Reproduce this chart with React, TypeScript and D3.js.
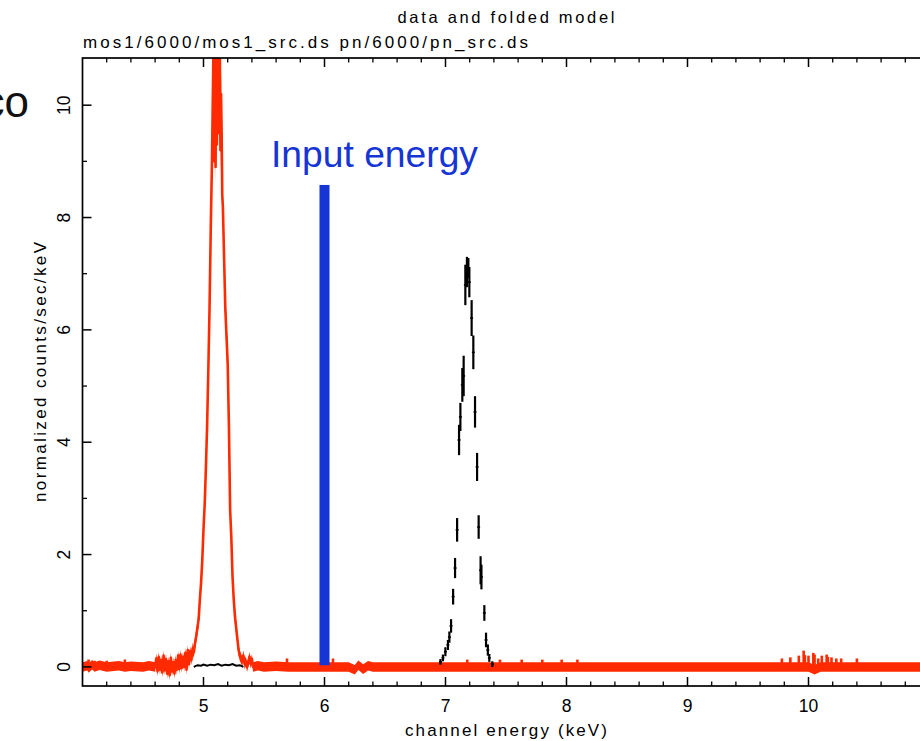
import React from "react";
import * as d3 from "d3";

// ---------- data ----------
// MOS1 spectrum (red): [energy keV, normalized counts/sec/keV, error]
const redSpectrum: [number, number, number][] = [
  [4.0, 0.0, 0.085], [4.04, 0.02, 0.085], [4.05, -0.02, 0.085], [4.08, 0.04, 0.085], [4.1, 0.0, 0.085],
  [4.14, 0.03, 0.085], [4.2, 0.0, 0.085], [4.3, 0.02, 0.085], [4.35, 0.0, 0.085], [4.4, 0.01, 0.085],
  [4.5, 0.0, 0.085], [4.55, 0.02, 0.085], [4.6, 0.0, 0.085],
  [4.61, 0.15, 0.09], [4.62, -0.08, 0.09], [4.63, 0.18, 0.09], [4.64, -0.05, 0.09], [4.65, 0.12, 0.09],
  [4.66, -0.1, 0.09], [4.67, 0.2, 0.09], [4.68, -0.06, 0.09], [4.69, 0.14, 0.09], [4.7, -0.12, 0.09],
  [4.71, 0.1, 0.09], [4.72, -0.15, 0.09], [4.73, 0.16, 0.09], [4.74, -0.08, 0.09], [4.75, 0.08, 0.09],
  [4.76, -0.12, 0.09], [4.77, 0.12, 0.09], [4.78, -0.05, 0.09], [4.79, 0.2, 0.09], [4.8, -0.04, 0.09],
  [4.81, 0.22, 0.09], [4.82, -0.02, 0.09], [4.83, 0.18, 0.09], [4.84, 0.0, 0.09], [4.85, 0.25, 0.09],
  [4.86, -0.05, 0.09], [4.87, 0.3, 0.09], [4.88, 0.05, 0.09], [4.89, 0.28, 0.09], [4.9, 0.12, 0.09],
  [4.91, 0.33, 0.1], [4.92, 0.26, 0.1], [4.93, 0.42, 0.1], [4.94, 0.55, 0.11], [4.95, 0.7, 0.12],
  [4.96, 0.85, 0.13], [4.97, 1.2, 0.14], [4.98, 1.5, 0.16], [4.99, 1.9, 0.18], [5.0, 2.45, 0.2],
  [5.01, 2.9, 0.22], [5.02, 3.55, 0.24], [5.03, 4.3, 0.26], [5.04, 5.3, 0.28], [5.05, 6.4, 0.3],
  [5.06, 7.8, 0.33], [5.07, 9.0, 0.35], [5.08, 10.6, 0.37], [5.085, 11.5, 0.38], [5.09, 9.0, 0.36],
  [5.095, 11.5, 0.38], [5.1, 8.9, 0.36], [5.105, 11.5, 0.38], [5.11, 9.3, 0.36], [5.115, 11.5, 0.38],
  [5.12, 9.5, 0.36], [5.125, 11.4, 0.38], [5.13, 10.0, 0.37], [5.135, 11.0, 0.37], [5.14, 9.2, 0.36],
  [5.145, 10.2, 0.36], [5.15, 9.5, 0.35], [5.155, 8.4, 0.34], [5.16, 8.2, 0.33], [5.17, 7.3, 0.32],
  [5.18, 6.4, 0.3], [5.19, 5.9, 0.29], [5.2, 5.4, 0.28], [5.21, 4.3, 0.26], [5.22, 2.8, 0.22],
  [5.23, 2.3, 0.2], [5.24, 1.6, 0.17], [5.25, 1.2, 0.15], [5.26, 0.9, 0.14], [5.27, 0.7, 0.12],
  [5.28, 0.5, 0.11], [5.29, 0.3, 0.1], [5.3, 0.2, 0.09], [5.31, 0.15, 0.09], [5.32, 0.1, 0.09],
  [5.33, 0.2, 0.09], [5.34, 0.05, 0.09], [5.35, 0.1, 0.09], [5.36, 0.0, 0.085], [5.37, 0.08, 0.085],
  [5.38, 0.18, 0.085], [5.39, 0.05, 0.085], [5.4, 0.14, 0.085], [5.41, 0.0, 0.085], [5.45, 0.02, 0.085],
  [5.5, 0.0, 0.085], [5.6, 0.01, 0.085], [5.7, 0.0, 0.085], [5.8, 0.0, 0.085], [6.1, 0.0, 0.085],
  [6.2, 0.0, 0.085], [6.25, -0.05, 0.085], [6.28, 0.03, 0.085], [6.32, -0.04, 0.085], [6.36, 0.02, 0.085],
  [6.4, 0.0, 0.085], [7.0, 0.0, 0.085], [8.0, 0.0, 0.085], [9.0, 0.0, 0.085], [10.0, 0.0, 0.085],
  [10.05, -0.05, 0.085], [10.1, 0.0, 0.085], [11.0, 0.0, 0.085],
];

// isolated single-channel upward fluctuations of the red spectrum: [energy, top value]
const redSpikes: [number, number][] = [
  [4.05, 0.13], [4.1, 0.11], [4.2, 0.11], [4.35, 0.13], [5.69, 0.15], [6.07, 0.15], [7.18, 0.13],
  [7.45, 0.13], [7.63, 0.13], [7.8, 0.13], [7.96, 0.13], [8.09, 0.13], [9.78, 0.15], [9.85, 0.17],
  [9.92, 0.2], [9.96, 0.29], [9.97, 0.21], [10.0, 0.2], [10.04, 0.25], [10.05, 0.22], [10.08, 0.15],
  [10.11, 0.2], [10.15, 0.22], [10.16, 0.18], [10.19, 0.17], [10.23, 0.15], [10.27, 0.15], [10.4, 0.15],
];

// pn spectrum (black): [energy keV, value, error]
const blackPoints: [number, number, number][] = [
  [6.958, 0.09, 0.05], [6.979, 0.16, 0.06], [6.999, 0.27, 0.08], [7.02, 0.39, 0.09], [7.032, 0.53, 0.1],
  [7.046, 0.73, 0.12], [7.063, 1.25, 0.14], [7.079, 1.76, 0.18], [7.096, 2.44, 0.21], [7.112, 4.04, 0.27],
  [7.123, 4.45, 0.25], [7.139, 5.02, 0.3], [7.15, 5.18, 0.36], [7.164, 6.8, 0.36], [7.177, 7.03, 0.27],
  [7.189, 7.1, 0.18], [7.197, 6.85, 0.27], [7.216, 6.21, 0.32], [7.23, 5.6, 0.3], [7.244, 4.54, 0.28],
  [7.261, 3.56, 0.25], [7.274, 2.49, 0.21], [7.29, 1.72, 0.25], [7.297, 1.6, 0.22], [7.321, 0.96, 0.14],
  [7.335, 0.48, 0.13], [7.35, 0.3, 0.1], [7.362, 0.16, 0.07], [7.387, 0.05, 0.05],
];

// pn low level near the MOS line (black)
const blackLow: [number, number][] = [
  [4.92, 0.0], [4.95, 0.03], [4.98, 0.02], [5.0, 0.04], [5.03, 0.02], [5.06, 0.04], [5.09, 0.03],
  [5.12, 0.05], [5.15, 0.02], [5.18, 0.04], [5.21, 0.03], [5.24, 0.05], [5.27, 0.02], [5.3, 0.03], [5.33, 0.0],
];

const inputEnergy = 6.0;
const inputMarkerHeight = 8.58;

const xMajorTicks = [5, 6, 7, 8, 9, 10];
const yMajorTicks = [0, 2, 4, 6, 8, 10];

const titleText = "data and folded model";
const subtitleText = "mos1/6000/mos1_src.ds pn/6000/pn_src.ds";
const xLabelText = "channel energy (keV)";
const yLabelText = "normalized counts/sec/keV";

// ---------- layout ----------
const W = 920;
const H = 741;
const L = 82.5, R = 929.5, T = 58, B = 686;
const RED = "#ff2a00";
const BLUE = "#1535d4";
const FONT = "'Liberation Sans', Arial, Helvetica, sans-serif";

export default function App() {
  const x = d3.scaleLinear().domain([4, 11]).range([L, R]);
  const y = d3.scaleLinear().domain([-0.34, 10.84]).range([B, T]);

  const redArea = d3
    .area<[number, number, number]>()
    .x((d) => x(d[0]))
    .y0((d) => y(d[1] - d[2]))
    .y1((d) => y(d[1] + d[2]));
  const redLine = d3
    .line<[number, number, number]>()
    .x((d) => x(d[0]))
    .y((d) => y(d[1]));
  const lowLine = d3
    .line<[number, number]>()
    .x((d) => x(d[0]))
    .y((d) => y(d[1]));

  const xMinor = d3.range(4.2, 10.9, 0.2).filter((v) => Math.abs(v - Math.round(v)) > 0.05);
  const yMinor = d3.range(1, 11, 2);

  const majorLen = 9;
  const minorLen = 4.5;

  return (
    <svg
      width={W}
      height={H}
      style={{ position: "absolute", left: 0, top: 0, background: "#fff" }}
      fontFamily={FONT}
    >
      <defs>
        <clipPath id="plotClip">
          <rect x={L} y={T} width={R - L} height={B - T} />
        </clipPath>
      </defs>
      <rect x={0} y={0} width={W} height={H} fill="#fff" />

      {/* slide fragment (cut at the left edge as in the reference) */}
      <text x={29} y={117} fontSize={44} textAnchor="end" fill="#111">
        co
      </text>

      <g clipPath="url(#plotClip)">
        <path d={redArea(redSpectrum) || ""} fill={RED} />
        <path d={redLine(redSpectrum) || ""} fill="none" stroke={RED} strokeWidth={2.6} strokeLinejoin="round" />
        {redSpikes.map((s, i) => (
          <line key={i} x1={x(s[0])} x2={x(s[0])} y1={y(0)} y2={y(s[1])} stroke={RED} strokeWidth={2.6} />
        ))}

        <rect
          x={x(inputEnergy) - 5}
          width={10}
          y={y(inputMarkerHeight)}
          height={y(0.03) - y(inputMarkerHeight)}
          fill={BLUE}
        />

        <path d={lowLine(blackLow) || ""} fill="none" stroke="#000" strokeWidth={2} />
        {blackPoints.map((p, i) => (
          <g key={i} stroke="#000" strokeWidth={2.2}>
            <line x1={x(p[0])} x2={x(p[0])} y1={y(p[1] - p[2])} y2={y(p[1] + p[2])} />
            <line x1={x(p[0] - 0.012)} x2={x(p[0] + 0.012)} y1={y(p[1])} y2={y(p[1])} strokeWidth={1.6} />
          </g>
        ))}
      </g>

      {/* frame */}
      <rect x={L} y={T} width={R - L} height={B - T} fill="none" stroke="#000" strokeWidth={1.7} />
      {xMajorTicks.map((v) => (
        <g key={"xM" + v} stroke="#000" strokeWidth={1.5}>
          <line x1={x(v)} x2={x(v)} y1={B} y2={B - majorLen} />
          <line x1={x(v)} x2={x(v)} y1={T} y2={T + majorLen} />
        </g>
      ))}
      {xMinor.map((v, i) => (
        <g key={"xm" + i} stroke="#000" strokeWidth={1.3}>
          <line x1={x(v)} x2={x(v)} y1={B} y2={B - minorLen} />
          <line x1={x(v)} x2={x(v)} y1={T} y2={T + minorLen} />
        </g>
      ))}
      {yMajorTicks.map((v) => (
        <g key={"yM" + v} stroke="#000" strokeWidth={1.5}>
          <line x1={L} x2={L + majorLen} y1={y(v)} y2={y(v)} />
          <line x1={R} x2={R - majorLen} y1={y(v)} y2={y(v)} />
        </g>
      ))}
      {yMinor.map((v) => (
        <g key={"ym" + v} stroke="#000" strokeWidth={1.3}>
          <line x1={L} x2={L + minorLen} y1={y(v)} y2={y(v)} />
          <line x1={R} x2={R - minorLen} y1={y(v)} y2={y(v)} />
        </g>
      ))}

      {/* tick labels */}
      {xMajorTicks.map((v) => (
        <text key={"xl" + v} x={x(v)} y={712} fontSize={17.5} textAnchor="middle" fill="#000">
          {v}
        </text>
      ))}
      {yMajorTicks.map((v) => (
        <text
          key={"yl" + v}
          transform={`translate(70,${y(v)}) rotate(-90)`}
          fontSize={17.5}
          textAnchor="middle"
          fill="#000"
        >
          {v}
        </text>
      ))}

      {/* titles */}
      <text x={506} y={23} fontSize={16.5} textAnchor="middle" textLength={217} lengthAdjust="spacing" fill="#000">
        {titleText}
      </text>
      <text x={83} y={48} fontSize={17} textLength={445} lengthAdjust="spacing" fill="#000">
        {subtitleText}
      </text>
      <text x={506} y={736} fontSize={17} textAnchor="middle" textLength={202} lengthAdjust="spacing" fill="#000">
        {xLabelText}
      </text>
      <text
        transform={`translate(46,${(T + B) / 2}) rotate(-90)`}
        fontSize={17}
        textAnchor="middle"
        textLength={260}
        lengthAdjust="spacing"
        fill="#000"
      >
        {yLabelText}
      </text>

      {/* annotation */}
      <text x={271} y={167} fontSize={37} textLength={207} lengthAdjust="spacingAndGlyphs" fill={BLUE}>
        Input energy
      </text>
    </svg>
  );
}
